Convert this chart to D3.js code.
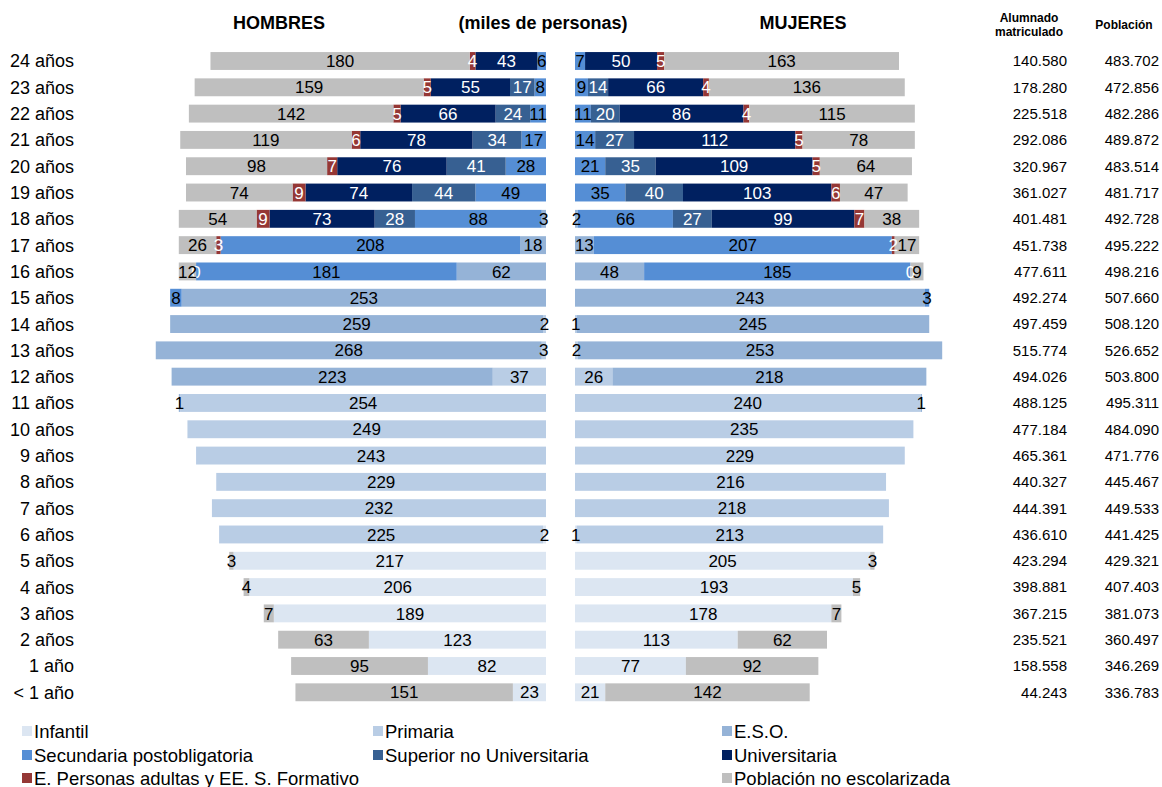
<!DOCTYPE html>
<html><head><meta charset="utf-8">
<script src="https://cdn.jsdelivr.net/npm/d3@7"></script>
<style>
html,body{margin:0;padding:0;background:#fff;}
svg{display:block;font-family:"Liberation Sans",Arial,sans-serif;}
</style></head>
<body><svg id="chart" width="1162" height="787"></svg>
<script>
// ---------- DATA ----------
const ages = ["24 años","23 años","22 años","21 años","20 años","19 años","18 años","17 años","16 años","15 años","14 años","13 años","12 años","11 años","10 años","9 años","8 años","7 años","6 años","5 años","4 años","3 años","2 años","1 año","< 1 año"];
const categories = ["Infantil","Primaria","E.S.O.","Secundaria postobligatoria","Superior no Universitaria","Universitaria","E. Personas adultas y EE. S. Formativo","Población no escolarizada"];
const keys = ["infantil","primaria","eso","secPost","supNoUniv","univ","adultas","noEsc"];

// Hombres (miles), order: 24 años ... < 1 año
const hInfantil = [null,null,null,null,null,null,null,null,null,null,null,null,null,null,null,null,null,null,2,217,206,189,123,82,23];
const hPrimaria = [null,null,null,null,null,null,null,null,null,null,2,3,37,254,249,243,229,232,225,null,null,null,null,null,null];
const hEso      = [null,null,null,null,null,null,3,18,62,253,259,268,223,1,null,null,null,null,null,null,null,null,null,null,null];
const hSecPost  = [6,8,11,17,28,49,88,208,181,8,null,null,null,null,null,null,null,null,null,null,null,null,null,null,null];
const hSupNoUni = [null,17,24,34,41,44,28,null,null,null,null,null,null,null,null,null,null,null,null,null,null,null,null,null,null];
const hUniv     = [43,55,66,78,76,74,73,null,null,null,null,null,null,null,null,null,null,null,null,null,null,null,null,null,null];
const hAdultas  = [4,5,5,6,7,9,9,3,0,null,null,null,null,null,null,null,null,null,null,null,null,null,null,null,null];
const hNoEsc    = [180,159,142,119,98,74,54,26,12,null,null,null,null,null,null,null,null,null,null,3,4,7,63,95,151];

// Mujeres (miles)
const mInfantil = [null,null,null,null,null,null,null,null,null,null,null,null,null,null,null,null,null,null,1,205,193,178,113,77,21];
const mPrimaria = [null,null,null,null,null,null,null,null,null,null,1,2,26,240,235,229,216,218,213,null,null,null,null,null,null];
const mEso      = [null,null,null,null,null,null,2,13,48,243,245,253,218,1,null,null,null,null,null,null,null,null,null,null,null];
const mSecPost  = [7,9,11,14,21,35,66,207,185,3,null,null,null,null,null,null,null,null,null,null,null,null,null,null,null];
const mSupNoUni = [null,14,20,27,35,40,27,null,null,null,null,null,null,null,null,null,null,null,null,null,null,null,null,null,null];
const mUniv     = [50,66,86,112,109,103,99,null,null,null,null,null,null,null,null,null,null,null,null,null,null,null,null,null,null];
const mAdultas  = [5,4,4,5,5,6,7,2,0,null,null,null,null,null,null,null,null,null,null,null,null,null,null,null,null];
const mNoEsc    = [163,136,115,78,64,47,38,17,9,null,null,null,null,null,null,null,null,null,null,3,5,7,62,92,142];

const alumnado  = [140580,178280,225518,292086,320967,361027,401481,451738,477611,492274,497459,515774,494026,488125,477184,465361,440327,444391,436610,423294,398881,367215,235521,158558,44243];
const poblacion = [483702,472856,482286,489872,483514,481717,492728,495222,498216,507660,508120,526652,503800,495311,484090,471776,445467,449533,441425,429321,407403,381073,360497,346269,336783];

const colors = ["#dce6f2","#b9cde5","#95b3d7","#558ed5","#376092","#002060","#953735","#bfbfbf"];
const labelColors = ["#000","#000","#000","#000","#fff","#fff","#fff","#000"];

// ---------- BUILD ----------
const hSeries = [hInfantil,hPrimaria,hEso,hSecPost,hSupNoUni,hUniv,hAdultas,hNoEsc];
const mSeries = [mInfantil,mPrimaria,mEso,mSecPost,mSupNoUni,mUniv,mAdultas,mNoEsc];
function table(series){
  return ages.map((a,i)=>{const o={age:a}; keys.forEach((k,j)=>o[k]=series[j][i]); return o;});
}
const hTable = table(hSeries), mTable = table(mSeries);

const svg = d3.select("#chart");

const y = d3.scaleBand().domain(ages).range([47.85, 705.45]).paddingInner(0.32).paddingOuter(0.16);
const xH = d3.scaleLinear().domain([0,300]).range([546,114]);
const xF = d3.scaleLinear().domain([0,300]).range([575,1007]);

const stack = d3.stack().keys(keys).value((d,k)=> d[k] == null ? 0 : d[k]);
const fmt = d3.format("d");

function drawSide(tbl, x, male){
  const layers = stack(tbl);
  const g = svg.append("g");
  layers.forEach((layer,j)=>{
    const segs = layer.map(s=>({s, v:s.data[layer.key], age:s.data.age})).filter(o=>o.v!=null);
    g.selectAll(null).data(segs).enter().append("rect")
      .attr("x", o=> male ? x(o.s[1]) : x(o.s[0]))
      .attr("width", o=> Math.abs(x(o.s[1]) - x(o.s[0])))
      .attr("y", o=> y(o.age))
      .attr("height", y.bandwidth())
      .attr("fill", colors[j]);
  });
  layers.forEach((layer,j)=>{
    const segs = layer.map(s=>({s, v:s.data[layer.key], age:s.data.age})).filter(o=>o.v!=null);
    g.selectAll(null).data(segs).enter().append("text")
      .attr("x", o=> (x(o.s[0]) + x(o.s[1]))/2)
      .attr("y", o=> y(o.age) + y.bandwidth()/2)
      .attr("dy","0.36em")
      .attr("text-anchor","middle")
      .attr("font-size",17)
      .attr("fill", labelColors[j])
      .text(o=> fmt(o.v));
  });
}
drawSide(hTable, xH, true);
drawSide(mTable, xF, false);

// age labels
svg.append("g").selectAll("text").data(ages).enter().append("text")
  .attr("x",74).attr("y",d=>y(d)+y.bandwidth()/2).attr("dy","0.36em")
  .attr("text-anchor","end").attr("font-size",18).attr("fill","#000").text(d=>d);

// headers
const hdr = [["HOMBRES",279],["(miles de personas)",543],["MUJERES",803]];
svg.append("g").selectAll("text").data(hdr).enter().append("text")
  .attr("x",d=>d[1]).attr("y",23).attr("dy","0.36em").attr("text-anchor","middle")
  .attr("font-size",18).attr("font-weight","bold").attr("fill","#000").text(d=>d[0]);

svg.append("text").attr("x",1029).attr("y",18).attr("dy","0.36em").attr("text-anchor","middle")
  .attr("font-size",12).attr("font-weight","bold").text("Alumnado");
svg.append("text").attr("x",1029).attr("y",32).attr("dy","0.36em").attr("text-anchor","middle")
  .attr("font-size",12).attr("font-weight","bold").text("matriculado");
svg.append("text").attr("x",1124).attr("y",25).attr("dy","0.36em").attr("text-anchor","middle")
  .attr("font-size",12).attr("font-weight","bold").text("Población");

const es = d3.formatLocale({decimal:",",thousands:".",grouping:[3],currency:["","€"]});
const nf = es.format(",");
svg.append("g").selectAll("text").data(alumnado).enter().append("text")
  .attr("x",1067).attr("y",(d,i)=>y(ages[i])+y.bandwidth()/2).attr("dy","0.36em")
  .attr("text-anchor","end").attr("font-size",15).text(d=>nf(d));
svg.append("g").selectAll("text").data(poblacion).enter().append("text")
  .attr("x",1159).attr("y",(d,i)=>y(ages[i])+y.bandwidth()/2).attr("dy","0.36em")
  .attr("text-anchor","end").attr("font-size",15).text(d=>nf(d));

// legend
const legendPos = [[0,0],[1,0],[2,0],[0,1],[1,1],[2,1],[0,2],[2,2]];
const colX = [22,373,722], rowY = [731,755,778];
const lg = svg.append("g").selectAll("g").data(categories).enter().append("g")
  .attr("transform",(d,i)=>`translate(${colX[legendPos[i][0]]},${rowY[legendPos[i][1]]})`);
lg.append("rect").attr("x",0).attr("y",-5).attr("width",10).attr("height",10).attr("fill",(d,i)=>colors[i]);
lg.append("text").attr("x",12).attr("y",0).attr("dy","0.36em").attr("font-size",18.5).attr("fill","#000").text(d=>d);
</script></body></html>
